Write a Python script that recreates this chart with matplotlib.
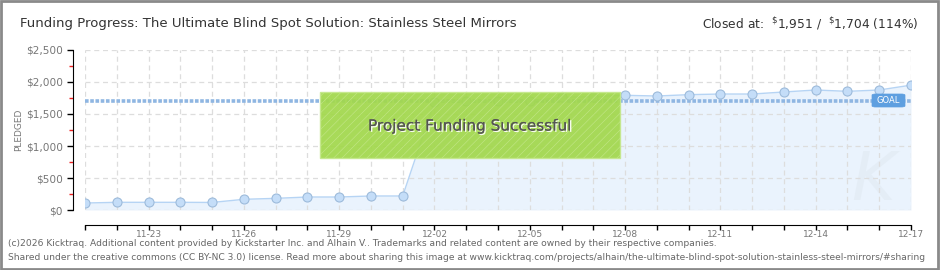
import matplotlib
matplotlib.use("Agg")
import matplotlib.pyplot as plt
from matplotlib.patches import Rectangle, FancyBboxPatch
import matplotlib.patheffects as pe
import numpy as np

plt.rcParams['font.family'] = ['DejaVu Sans']
plt.rcParams['hatch.color'] = "#98cc44"
plt.rcParams['hatch.linewidth'] = 0.4

dates = ["11-21", "11-22", "11-23", "11-24", "11-25", "11-26", "11-27", "11-28",
         "11-29", "11-30", "12-01", "12-02", "12-03", "12-04", "12-05", "12-06",
         "12-07", "12-08", "12-09", "12-10", "12-11", "12-12", "12-13", "12-14",
         "12-15", "12-16", "12-17"]
pledged = [109, 120, 120, 120, 118, 167, 182, 203, 203, 219, 219, 1693, 1703,
           1703, 1703, 1760, 1771, 1792, 1781, 1802, 1812, 1812, 1844, 1875,
           1854, 1875, 1951]
goal = 1704
yticks = [0, 500, 1000, 1500, 2000, 2500]
ytick_labels = ["$0", "$500", "$1,000", "$1,500", "$2,000", "$2,500"]

title = "Funding Progress: The Ultimate Blind Spot Solution: Stainless Steel Mirrors"
closed = r"Closed at:  $^{\$}$1,951 /  $^{\$}$1,704 (114%)"
footer1 = ("(c)2026 Kicktraq. Additional content provided by Kickstarter Inc. and Alhain V.. "
           "Trademarks and related content are owned by their respective companies.")
footer2 = ("Shared under the creative commons (CC BY-NC 3.0) license. Read more about sharing this image at "
           "www.kicktraq.com/projects/alhain/the-ultimate-blind-spot-solution-stainless-steel-mirrors/#sharing")

W, H = 940, 270
fig = plt.figure(figsize=(W / 100, H / 100), dpi=100)
fig.patch.set_facecolor("white")

def fx(px):
    return px / W

def fy(py):
    return 1 - py / H

ax = fig.add_axes([fx(85), fy(210), fx(911) - fx(85), fy(50) - fy(210)])
x = np.arange(len(dates))

ax.fill_between(x, 0, pledged, color="#eaf3fd", zorder=0.3, lw=0)
ax.plot(x, pledged, color="#b6d4f4", lw=1.0, zorder=3)
ax.plot(x, pledged, 'o', ms=6.5, mfc="#c4ddf8", mec="#9dbbdb", mew=0.8, zorder=4)
ax.axhline(goal, color="#8fb6e2", lw=2.6, ls=(0, (1.0, 0.45)), zorder=2)

ax.set_xlim(0, len(dates) - 1)
ax.set_ylim(0, 2500)
ax.set_yticks(yticks)
ax.set_yticklabels(ytick_labels)
ax.set_yticks([250, 750, 1250, 1750, 2250], minor=True)
ax.set_xticks(x)
ax.set_xticklabels([d if i % 3 == 2 else "" for i, d in enumerate(dates)])

ax.grid(True, color="#dddddd", ls=(0, (4, 3)), lw=0.9)
ax.set_axisbelow(True)

for s in ["top", "right"]:
    ax.spines[s].set_visible(False)
ax.spines["left"].set_position(("outward", 9))
ax.spines["bottom"].set_position(("outward", 11))
ax.spines["left"].set_color("black")
ax.spines["bottom"].set_color("black")
ax.tick_params(axis="y", which="major", length=4, width=1, color="black",
               labelsize=7.6, labelcolor="#777777", pad=3)
ax.tick_params(axis="y", which="minor", length=3, width=1, color="#ee2222")
ax.tick_params(axis="x", which="major", length=3.5, width=1, color="black",
               labelsize=6.5, labelcolor="#777777", pad=0)

# y-axis title
fig.text(fx(19), fy(130), "PLEDGED", rotation=90, ha="center", va="center",
         fontsize=6.5, color="#777777")

# Watermark
ax.text(len(dates) - 2.2, 450, "K", fontsize=48, color="#e3ecf5", style="italic",
        ha="center", va="center", zorder=0.4, alpha=0.8)

# Success box
box = Rectangle((fx(320), fy(158)), fx(620) - fx(320), fy(92) - fy(158),
                transform=fig.transFigure, facecolor="#a2d84c", edgecolor="#c5e88d",
                lw=1, alpha=0.93, zorder=10, hatch="////")
fig.patches.append(box)
fig.text(fx(470), fy(126), "Project Funding Successful", ha="center", va="center",
         fontsize=11, color="#555555", zorder=11,
         path_effects=[pe.withSimplePatchShadow(offset=(1, -1), shadow_rgbFace="white", alpha=0.9),
                       pe.Normal()])

# GOAL tag
goal_box = FancyBboxPatch((fx(872), fy(107)), fx(905) - fx(872), fy(94) - fy(107),
                          boxstyle="round,pad=0,rounding_size=0.004",
                          transform=fig.transFigure, facecolor="#5e9fe0",
                          edgecolor="#5e9fe0", lw=0.5, zorder=12)
fig.patches.append(goal_box)
fig.text(fx(888.5), fy(100.5), "GOAL", ha="center", va="center", fontsize=6,
         color="white", zorder=13)

# Titles
fig.text(fx(20), fy(24), title, ha="left", va="center", fontsize=9.55, color="#333333")
fig.text(fx(918), fy(24), closed, ha="right", va="center", fontsize=8.8, color="#333333")

# Footer
fig.text(fx(8), fy(244), footer1, ha="left", va="center", fontsize=6.6, color="#666666")
fig.text(fx(8), fy(257), footer2, ha="left", va="center", fontsize=6.6, color="#666666")

# Border
border = Rectangle((0.001, 0.002), 0.997, 0.995, transform=fig.transFigure,
                   fill=False, edgecolor="#8a8a8a", lw=2, zorder=20)
fig.patches.append(border)

fig.savefig("out.png", dpi=100)
